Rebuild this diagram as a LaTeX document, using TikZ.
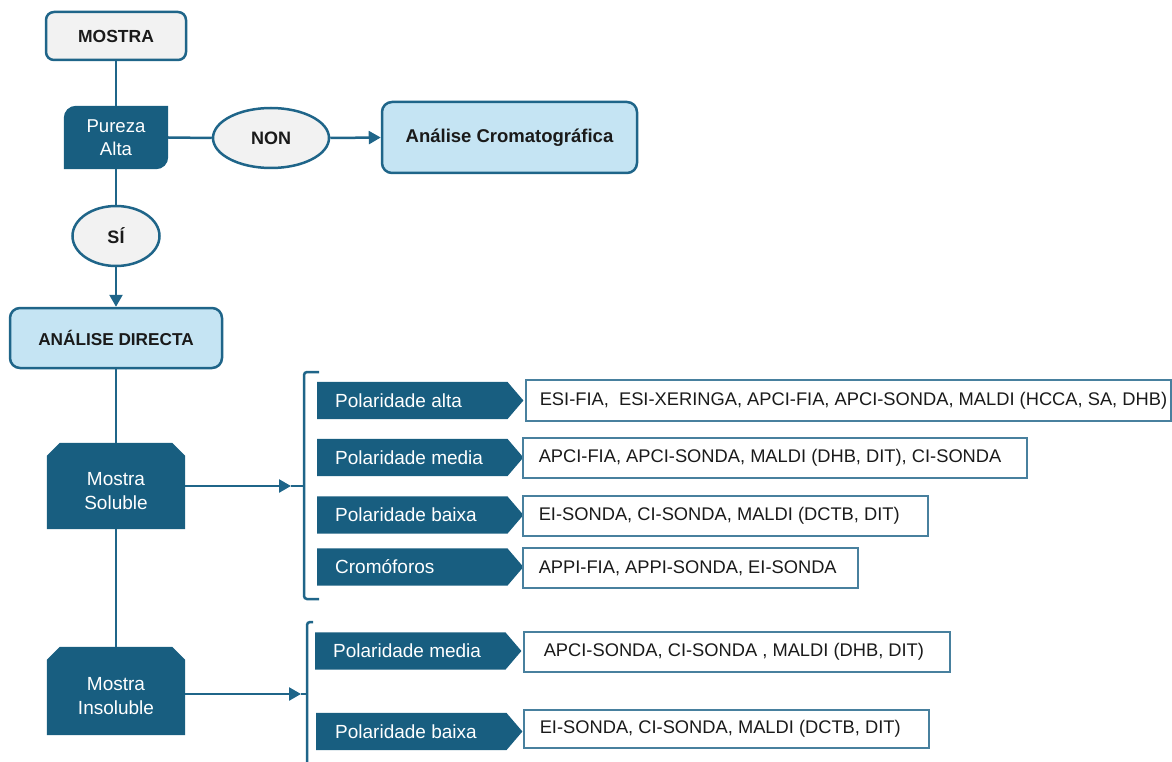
\documentclass[tikz,border=0pt]{standalone}
\usepackage{fontspec}
\setmainfont{Liberation Sans}
\usetikzlibrary{arrows.meta,calc,backgrounds,shapes.geometric}

\definecolor{navy}{RGB}{24,94,128}
\definecolor{edge}{RGB}{31,101,137}
\definecolor{sky}{RGB}{197,228,243}
\definecolor{paper}{RGB}{242,242,242}
\definecolor{frame}{RGB}{72,128,158}
\definecolor{ink}{RGB}{26,26,26}

\tikzset{
  conn/.style={draw=edge,line width=2.5pt},
  arr/.style={conn,-{Triangle[length=12pt,width=13pt]}},
  greybox/.style={draw=edge,line width=2.5pt,fill=paper,rounded corners=8pt,inner sep=0pt,
    font=\bfseries\fontsize{17.5}{21}\selectfont,text=ink},
  skybox/.style={draw=edge,line width=2.5pt,fill=sky,rounded corners=10pt,inner sep=0pt,
    font=\bfseries\fontsize{18}{21}\selectfont,text=ink},
  oval/.style={ellipse,draw=edge,line width=2.5pt,fill=paper,inner sep=0pt,
    font=\bfseries\fontsize{18}{21}\selectfont,text=ink},
  darkbox/.style={inner sep=0pt,text=white,align=center},
  darktext/.style={inner sep=0pt,text=white,align=center,font=\fontsize{19}{24}\selectfont},
  plab/.style={anchor=west,inner sep=0pt,minimum width=190pt,minimum height=37pt,text=white,
    font=\fontsize{19}{22}\selectfont},
  res/.style={anchor=west,draw=frame,line width=1.5pt,fill=white,inner sep=0pt,text=ink,
    font=\fontsize{18.3}{22}\selectfont},
  bracket/.style={draw=edge,line width=2.5pt,rounded corners=3pt},
}

\begin{document}
\begin{tikzpicture}[x=1pt,y=-1pt]
\useasboundingbox (0,0) rectangle (1172,762);

% main column
\node[greybox,minimum width=140pt,minimum height=48pt] (mostra) at (116,36) {MOSTRA};
\node[darkbox,minimum width=104pt,minimum height=63pt,font=\fontsize{18.6}{23}\selectfont] (pur) at (116,137.5) {Pureza\\Alta};
\node[oval,minimum width=116pt,minimum height=60pt] (non) at (271,138) {NON};
\node[skybox,minimum width=255pt,minimum height=71pt,font=\bfseries\fontsize{18.5}{21}\selectfont] (crom) at (509.5,137.5) {Análise Cromatográfica};
\node[oval,minimum width=87pt,minimum height=60pt] (si) at (116,236) {SÍ};
\node[skybox,minimum width=212pt,minimum height=60pt,font=\bfseries\fontsize{17.2}{21}\selectfont] (dir) at (116,338) {ANÁLISE DIRECTA};
\node[darkbox,minimum width=138pt,minimum height=86pt] (sol) at (116,486) {};
\node[darktext] (soltext) at (116,491) {Mostra\\Soluble};
\node[darkbox,minimum width=138pt,minimum height=88pt] (insol) at (116,691) {};
\node[darktext] (insoltext) at (116,696) {Mostra\\Insoluble};

% soluble group
\node[plab] (p1) at (317,400.5) {\makebox[190pt][l]{\hspace{18pt}Polaridade alta}};
\node[plab] (p2) at (317,457.5) {\makebox[190pt][l]{\hspace{18pt}Polaridade media}};
\node[plab] (p3) at (317,515) {\makebox[190pt][l]{\hspace{18pt}Polaridade baixa}};
\node[plab] (p4) at (317,567) {\makebox[190pt][l]{\hspace{18pt}Cromóforos}};

\node[res,minimum width=645pt,minimum height=41pt] (r1) at (525,400.5)
  {\makebox[645pt][l]{\hspace{14pt}ESI-FIA,~ ESI-XERINGA, APCI-FIA, APCI-SONDA, MALDI (HCCA, SA, DHB)}};
\node[res,minimum width=504pt,minimum height=40pt] (r2) at (522,458)
  {\makebox[504pt][l]{\hspace{16pt}APCI-FIA, APCI-SONDA, MALDI (DHB, DIT), CI-SONDA}};
\node[res,minimum width=405pt,minimum height=40pt] (r3) at (522,516)
  {\makebox[405pt][l]{\hspace{16pt}EI-SONDA, CI-SONDA, MALDI (DCTB, DIT)}};
\node[res,minimum width=335pt,minimum height=40pt] (r4) at (522,568)
  {\makebox[335pt][l]{\hspace{16pt}APPI-FIA, APPI-SONDA, EI-SONDA}};

% insoluble group
\node[plab] (q1) at (315,651) {\makebox[190pt][l]{\hspace{18pt}Polaridade media}};
\node[plab] (q2) at (316,731.5) {\makebox[190pt][l]{\hspace{19pt}Polaridade baixa}};

\node[res,minimum width=426pt,minimum height=40pt] (r5) at (523,652)
  {\makebox[426pt][l]{\hspace{20pt}APCI-SONDA, CI-SONDA , MALDI (DHB, DIT)}};
\node[res,minimum width=405pt,minimum height=38pt] (r6) at (523,729)
  {\makebox[405pt][l]{\hspace{16pt}EI-SONDA, CI-SONDA, MALDI (DCTB, DIT)}};

% filled shapes behind the labels
\begin{scope}[on background layer]
  % box with two rounded diagonal corners
  \fill[navy] (pur.south west) -- ([yshift=-12pt]pur.north west)
    .. controls ([yshift=-5.4pt]pur.north west) and ([xshift=5.4pt]pur.north west) .. ([xshift=12pt]pur.north west)
    -- (pur.north east) -- ([yshift=12pt]pur.south east)
    .. controls ([yshift=5.4pt]pur.south east) and ([xshift=-5.4pt]pur.south east) .. ([xshift=-12pt]pur.south east) -- cycle;
  % boxes with cut top corners
  \foreach \n in {sol,insol}
    \fill[navy] (\n.south west) -- ([yshift=-13pt]\n.north west) -- ([xshift=13pt]\n.north west)
      -- ([xshift=-13pt]\n.north east) -- ([yshift=-13pt]\n.north east) -- (\n.south east) -- cycle;
  % pointed labels
  \foreach \n in {p1,p2,p3,p4,q1,q2}
    \fill[navy] (\n.north west) -- (\n.north east) -- ($(\n.east)+(16,0)$)
      -- (\n.south east) -- (\n.south west) -- cycle;
\end{scope}

% brackets
\coordinate (b1) at (304,486);
\coordinate (b1tip) at (291,486);
\coordinate (b2) at (307,694);
\coordinate (b2tip) at (301,694);
\draw[bracket] (319,372) -- (304,372) -- (304,599) -- (319,599);
\draw[bracket] (313,622) -- (307,622) -- (307,770);

% connectors
\draw[conn] (mostra.south) -- (pur.north);
\draw[conn] (pur.east) -- (non.west);
\draw[arr] (non.east) -- (crom.west);
\draw[conn] (pur.south) -- (si.north);
\draw[arr] (si.south) -- (dir.north);
\draw[conn] (dir.south) -- (sol.north);
\draw[conn] (sol.south) -- (insol.north);
\draw[arr] (sol.east) -- (b1tip);
\draw[conn] (b1tip) -- (b1);
\draw[arr] ([yshift=-3pt]insol.east) -- (b2tip);
\draw[conn] (b2tip) -- (b2);
\end{tikzpicture}
\end{document}
